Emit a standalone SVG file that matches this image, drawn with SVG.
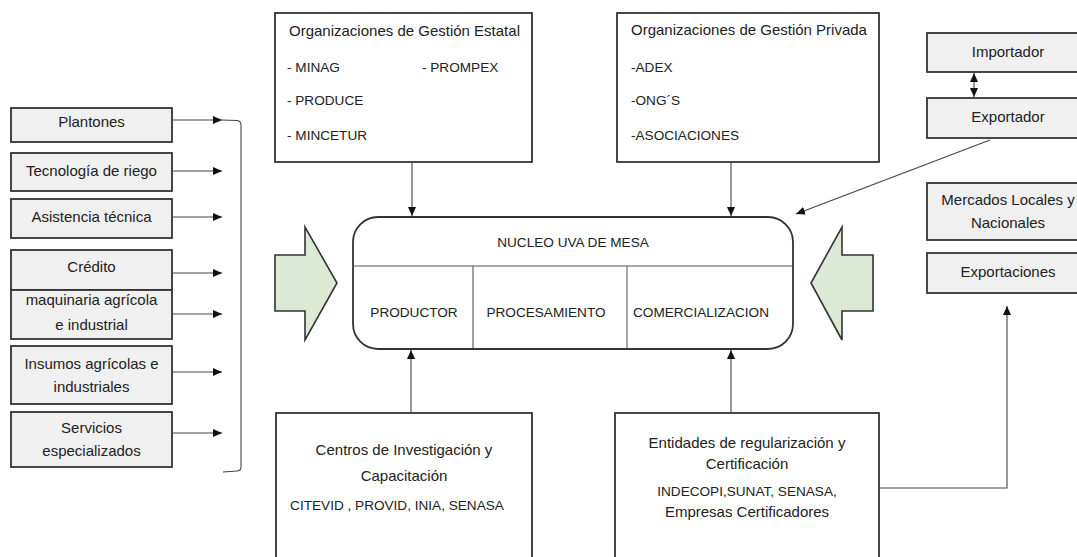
<svg xmlns="http://www.w3.org/2000/svg" width="1077" height="557" viewBox="0 0 1077 557">
<style>
text{font-family:"Liberation Sans",Arial,sans-serif;fill:#222}
.t{font-size:15px}
.c{font-size:13.6px}
.m{text-anchor:middle}
.g{fill:#f0f0f0;stroke:#333;stroke-width:1.8}
.w{fill:#fff;stroke:#333;stroke-width:1.8}
.ln{fill:none;stroke:#444;stroke-width:1.1}
.big{fill:#dce9d4;stroke:#333;stroke-width:1.6;stroke-linejoin:miter}
</style>
<defs>
<marker id="ah" markerUnits="userSpaceOnUse" markerWidth="10" markerHeight="8" refX="9" refY="4" orient="auto-start-reverse">
<path d="M0,0 L9,4 L0,8 Z" fill="#111"/>
</marker>
</defs>
<rect width="1077" height="557" fill="#fff"/>

<g id="plantones"><rect class="g" x="11" y="108" width="161" height="34"/><text class="t m" x="91.5" y="127">Plantones</text></g>
<g id="tecnologia"><rect class="g" x="11" y="153" width="161" height="38"/><text class="t m" x="91.5" y="176">Tecnología de riego</text></g>
<g id="asistencia"><rect class="g" x="11" y="199" width="161" height="39"/><text class="t m" x="91.5" y="222">Asistencia técnica</text></g>
<g id="credito"><rect class="g" x="11" y="250" width="161" height="40"/><text class="t m" x="91.5" y="272">Crédito</text></g>
<g id="maquinaria"><rect class="g" x="11" y="290" width="161" height="49"/><text class="t m" x="91.5" y="305">maquinaria agrícola</text><text class="t m" x="91.5" y="330">e industrial</text></g>
<g id="insumos"><rect class="g" x="11" y="346" width="161" height="58"/><text class="t m" x="91.5" y="369">Insumos agrícolas e</text><text class="t m" x="91.5" y="392">industriales</text></g>
<g id="servicios"><rect class="g" x="11" y="412" width="161" height="55"/><text class="t m" x="91.5" y="433">Servicios</text><text class="t m" x="91.5" y="456">especializados</text></g>

<g id="estatal"><rect class="w" x="275" y="13" width="257" height="149"/>
<text class="t" x="289" y="36">Organizaciones de Gestión Estatal</text>
<text class="c" x="287" y="72">- MINAG</text><text class="c" x="422" y="72">- PROMPEX</text>
<text class="c" x="287" y="105">- PRODUCE</text>
<text class="c" x="287" y="140">- MINCETUR</text></g>

<g id="privada"><rect class="w" x="617" y="13" width="262" height="149"/>
<text class="t" x="631" y="35">Organizaciones de Gestión Privada</text>
<text class="c" x="631" y="72">-ADEX</text>
<text class="c" x="631" y="105">-ONG´S</text>
<text class="c" x="631" y="140">-ASOCIACIONES</text></g>

<g id="importador"><rect class="g" x="927" y="33" width="165" height="39"/><text class="t m" x="1008" y="57">Importador</text></g>
<g id="exportador"><rect class="g" x="927" y="98" width="165" height="40"/><text class="t m" x="1008" y="122">Exportador</text></g>
<g id="mercados"><rect class="g" x="927" y="183" width="165" height="57"/><text class="t m" x="1008" y="205">Mercados Locales y</text><text class="t m" x="1008" y="228">Nacionales</text></g>
<g id="exportaciones"><rect class="g" x="927" y="253" width="165" height="40"/><text class="t m" x="1008" y="277">Exportaciones</text></g>

<g id="nucleo">
<rect class="w" x="353" y="217" width="440" height="132" rx="25" ry="25"/>
<line class="ln" x1="353" y1="266" x2="793" y2="266" style="stroke:#555"/>
<line class="ln" x1="473" y1="266" x2="473" y2="348" style="stroke:#555"/>
<line class="ln" x1="627" y1="266" x2="627" y2="348" style="stroke:#888;stroke-width:1.5"/>
<text class="c m" x="573" y="247">NUCLEO UVA DE MESA</text>
<text class="c m" x="414" y="317">PRODUCTOR</text>
<text class="c m" x="546" y="317">PROCESAMIENTO</text>
<text class="c m" x="701" y="317">COMERCIALIZACION</text>
</g>

<g id="flecha-izq"><polygon class="big" points="275,255 305,255 305,227 337,283 305,340 305,311 275,311"/></g>
<g id="flecha-der"><polygon class="big" points="873,255 842,255 842,227 811,283 842,340 842,311 873,311"/></g>

<g id="centros"><rect class="w" x="276" y="413" width="256" height="160"/>
<text class="t m" x="404" y="455">Centros de Investigación y</text>
<text class="t m" x="404" y="481">Capacitación</text>
<text class="c m" x="397" y="510">CITEVID , PROVID, INIA, SENASA</text></g>

<g id="entidades"><rect class="w" x="615" y="413" width="264" height="160"/>
<text class="t m" x="747" y="448">Entidades de regularización y</text>
<text class="t m" x="747" y="469">Certificación</text>
<text class="c m" x="747" y="496">INDECOPI,SUNAT, SENASA,</text>
<text class="t m" x="747" y="517">Empresas Certificadores</text></g>

<g id="connectors">
<line class="ln" x1="172" y1="120" x2="222" y2="120" marker-end="url(#ah)"/>
<line class="ln" x1="172" y1="171" x2="222" y2="171" marker-end="url(#ah)"/>
<line class="ln" x1="172" y1="217" x2="222" y2="217" marker-end="url(#ah)"/>
<line class="ln" x1="172" y1="273" x2="222" y2="273" marker-end="url(#ah)"/>
<line class="ln" x1="172" y1="314" x2="222" y2="314" marker-end="url(#ah)"/>
<line class="ln" x1="172" y1="372" x2="222" y2="372" marker-end="url(#ah)"/>
<line class="ln" x1="172" y1="433" x2="222" y2="433" marker-end="url(#ah)"/>
<path class="ln" d="M222,120 L237,120.5 Q241,121 241,125 L241,467 Q241,471 237,471 L223,472"/>
<line class="ln" x1="412" y1="162" x2="412" y2="216" marker-end="url(#ah)"/>
<line class="ln" x1="731" y1="162" x2="731" y2="216" marker-end="url(#ah)"/>
<line class="ln" x1="990" y1="140" x2="796" y2="214" marker-end="url(#ah)"/>
<line class="ln" x1="974" y1="73" x2="974" y2="97" marker-start="url(#ah)" marker-end="url(#ah)"/>
<line class="ln" x1="411" y1="413" x2="411" y2="350" marker-end="url(#ah)"/>
<line class="ln" x1="731" y1="413" x2="731" y2="350" marker-end="url(#ah)"/>
<path class="ln" d="M879,488 L1007,488 L1007,306" marker-end="url(#ah)"/>
</g>
</svg>
